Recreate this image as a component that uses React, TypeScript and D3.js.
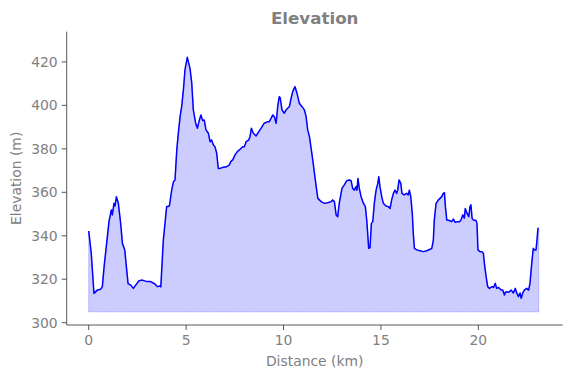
import React from "react";
import * as d3 from "d3";

const distanceKm = [
  0, 0.13, 0.27, 0.44, 0.62, 0.7, 0.79, 0.92, 1.04, 1.16, 1.21, 1.3, 1.35, 1.42, 1.52, 1.64, 1.73, 1.85, 1.95, 2.02,
  2.16, 2.29, 2.41, 2.58, 2.75, 3.0, 3.18, 3.4, 3.52, 3.66, 3.7, 3.83, 4.0, 4.14, 4.26, 4.35, 4.43, 4.52, 4.6, 4.69,
  4.77, 4.86, 4.94, 5.06, 5.2, 5.29, 5.37, 5.49, 5.58, 5.68, 5.76, 5.85, 5.93, 6.02, 6.14, 6.23, 6.31, 6.4, 6.48, 6.57,
  6.65, 6.74, 6.91, 7.08, 7.22, 7.29, 7.39, 7.51, 7.63, 7.77, 7.9, 7.99, 8.08, 8.21, 8.28, 8.35, 8.45, 8.59, 8.73, 8.85,
  9.01, 9.19, 9.27, 9.36, 9.45, 9.53, 9.62, 9.7, 9.78, 9.83, 9.92, 10.04, 10.13, 10.21, 10.3, 10.39, 10.47, 10.59, 10.69, 10.81,
  10.95, 11.07, 11.16, 11.24, 11.33, 11.5, 11.63, 11.76, 11.84, 11.93, 12.1, 12.27, 12.44, 12.52, 12.61, 12.7, 12.78, 12.86, 13.0, 13.12,
  13.24, 13.38, 13.47, 13.55, 13.64, 13.72, 13.77, 13.82, 13.89, 13.98, 14.1, 14.2, 14.27, 14.32, 14.37, 14.44, 14.51, 14.58, 14.66, 14.75,
  14.84, 14.89, 14.95, 15.04, 15.12, 15.26, 15.38, 15.47, 15.55, 15.64, 15.72, 15.81, 15.86, 15.93, 16.02, 16.08, 16.19, 16.32, 16.4, 16.46,
  16.53, 16.61, 16.66, 16.72, 16.84, 17.0, 17.18, 17.35, 17.52, 17.61, 17.69, 17.74, 17.83, 17.95, 18.03, 18.12, 18.2, 18.26, 18.31, 18.38,
  18.51, 18.63, 18.72, 18.81, 18.92, 19.03, 19.11, 19.2, 19.28, 19.33, 19.42, 19.51, 19.57, 19.62, 19.68, 19.74, 19.88, 19.93, 19.98, 20.09,
  20.19, 20.26, 20.31, 20.4, 20.48, 20.57, 20.71, 20.78, 20.87, 20.94, 21.04, 21.17, 21.25, 21.34, 21.39, 21.46, 21.56, 21.68, 21.8, 21.9,
  21.97, 22.06, 22.14, 22.2, 22.28, 22.36, 22.48, 22.58, 22.65, 22.74, 22.82, 22.87, 22.96, 23.01, 23.06, 23.1,
];

const elevationM = [
  342.2, 332, 313.5, 315, 315.4, 316.6, 325.8, 336.5, 346.5, 351.9, 349.6, 355, 353.7, 358, 355, 345.7, 336.5, 333.5, 324.3, 318,
  317.3, 315.8, 317.3, 319.3, 319.6, 318.9, 318.9, 317.8, 316.6, 316.9, 316.5, 338, 353.4, 353.7, 361, 364.9, 365.7, 379.5, 387.2, 394.8,
  399.4, 407.1, 416.3, 422.1, 417, 410.2, 397.9, 391.8, 389.5, 393.3, 395.6, 393, 393.3, 388.7, 387.2, 383.3, 384.1, 381.8, 381, 378,
  371, 371, 371.5, 371.8, 372.6, 374.1, 374.9, 377.2, 378.7, 379.8, 381, 381, 383.3, 384, 385.6, 389.5, 387.2, 385.9, 387.9, 389.5,
  391.8, 392.5, 392.5, 394, 395.6, 394.8, 391.8, 399.4, 404, 403.5, 397.9, 396.4, 397.9, 398.7, 399.4, 403.3, 406.3, 408.6, 405.6, 401,
  399.4, 397.9, 394.8, 388.7, 385.6, 374.9, 365.7, 357.2, 356.5, 355.7, 354.9, 355.2, 355.7, 356.5, 355.7, 349.6, 348.8, 354.9, 361.8, 363.4,
  365.3, 365.7, 365.3, 361.8, 361, 362.6, 361, 366.4, 361.8, 358, 355, 353.4, 347.3, 341.1, 334.2, 334.6, 345.7, 346.5, 354.9, 361,
  364.1, 367.2, 362.6, 358, 355, 353.7, 353.4, 352.6, 356.5, 359.5, 361, 359.5, 361, 365.7, 364.1, 359.5, 358.8, 359.5, 358.8, 361,
  358, 350.3, 341.1, 334.2, 333.5, 333.1, 332.7, 333.1, 333.8, 334.2, 338, 347.3, 354.9, 356.5, 357.2, 358, 359.5, 359.8, 353.4, 347.3,
  347, 346.5, 347.7, 346.2, 346.5, 346.5, 347.3, 349.6, 348.1, 352.6, 350.3, 348.8, 353.4, 354.2, 348, 347.3, 347, 345.7, 333.5, 332.7,
  332.7, 331.9, 327.3, 321.2, 316.6, 315.8, 316.6, 316.2, 318.1, 315.8, 316.2, 315, 315, 312.7, 314, 314.2, 314, 315, 313.7, 315.8,
  313.7, 312, 313.7, 311.2, 313.7, 315, 315.8, 315, 318.1, 327.3, 334.2, 333.5, 333.5, 338, 343.4, 343.5,
];

const xTicks = [0, 5, 10, 15, 20];
const yTicks = [300, 320, 340, 360, 380, 400, 420];
const fillBase = 305;

const W = 571;
const H = 378;
const L = 66.7;
const R = 562.7;
const T = 31.7;
const B = 325;

export default function App() {
  const x = d3.scaleLinear().domain([-1.13, 24.33]).range([L, R]);
  const y = d3.scaleLinear().domain([298.94, 433.9]).range([B, T]);
  const pts = distanceKm.map((d, i) => [d, elevationM[i]] as [number, number]);
  const area = d3
    .area<[number, number]>()
    .x((d) => x(d[0]))
    .y0(y(fillBase))
    .y1((d) => y(d[1]));
  const line = d3
    .line<[number, number]>()
    .x((d) => x(d[0]))
    .y((d) => y(d[1]));
  const gray = "#808080";
  const spine = "#555555";
  const font = "DejaVu Sans, sans-serif";
  return (
    <svg
      width={W}
      height={H}
      style={{ position: "absolute", left: 0, top: 0, background: "#fff" }}
      fontFamily={font}
    >
      <path d={area(pts) || ""} fill="rgb(0,0,255)" fillOpacity={0.2} stroke="rgb(0,0,255)" strokeOpacity={0.2} strokeWidth={1} />
      <path d={line(pts) || ""} fill="none" stroke="#0000ff" strokeWidth={1.5} strokeLinejoin="round" />
      <line x1={L} x2={L} y1={T} y2={B} stroke={spine} strokeWidth={1} />
      <line x1={L} x2={R} y1={B} y2={B} stroke={spine} strokeWidth={1} />
      {yTicks.map((t) => (
        <g key={"y" + t}>
          <line x1={L - 5} x2={L} y1={y(t)} y2={y(t)} stroke={spine} strokeWidth={1} />
          <text x={L - 9} y={y(t)} dy="0.35em" textAnchor="end" fontSize={13.9} fill={gray}>
            {t}
          </text>
        </g>
      ))}
      {xTicks.map((t) => (
        <g key={"x" + t}>
          <line x1={x(t)} x2={x(t)} y1={B} y2={B + 5} stroke={spine} strokeWidth={1} />
          <text x={x(t)} y={B + 20} textAnchor="middle" fontSize={13.9} fill={gray}>
            {t}
          </text>
        </g>
      ))}
      <text x={(L + R) / 2} y={366} textAnchor="middle" fontSize={13.9} fill={gray}>
        Distance (km)
      </text>
      <text
        transform={`translate(21,${(T + B) / 2}) rotate(-90)`}
        textAnchor="middle"
        fontSize={13.9}
        fill={gray}
      >
        Elevation (m)
      </text>
      <text x={(L + R) / 2} y={24} textAnchor="middle" fontSize={16.7} fontWeight="bold" fill={gray}>
        Elevation
      </text>
    </svg>
  );
}
